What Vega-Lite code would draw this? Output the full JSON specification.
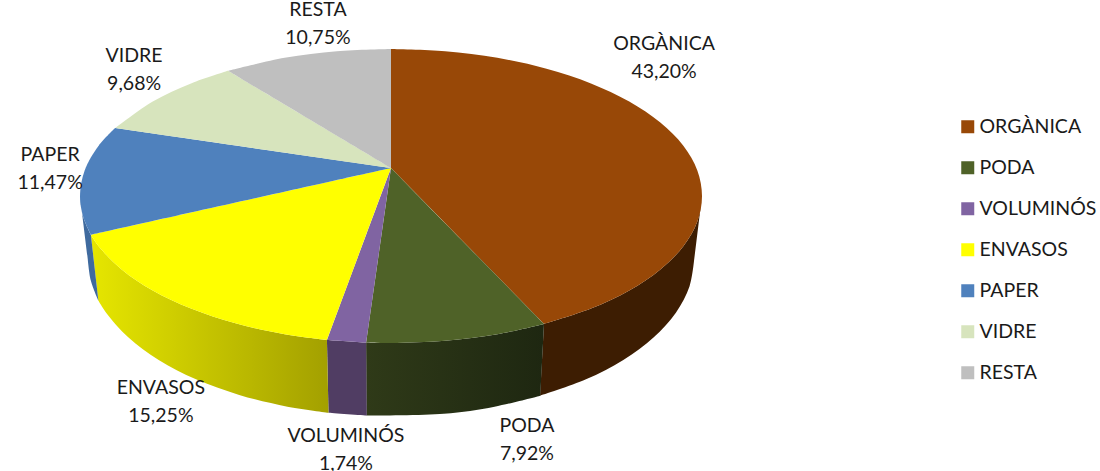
{
"$schema":"https://vega.github.io/schema/vega-lite/v6.json",
"width":1100,"height":471,"padding":0,"autosize":{"type":"none"},
"background":"white",
"config":{"view":{"stroke":null},"font":"Lato"},
"datasets":{
"top":[
{"slice":"ORGÀNICA","i":0,"x":0,"y":0.19},{"slice":"ORGÀNICA","i":1,"x":0,"y":1},{"slice":"ORGÀNICA","i":1,"x":0,"y":1},{"slice":"ORGÀNICA","i":2,"x":0.174,"y":0.985},{"slice":"ORGÀNICA","i":3,"x":0.342,"y":0.94},{"slice":"ORGÀNICA","i":4,"x":0.5,"y":0.866},{"slice":"ORGÀNICA","i":5,"x":0.643,"y":0.766},{"slice":"ORGÀNICA","i":6,"x":0.766,"y":0.643},{"slice":"ORGÀNICA","i":7,"x":0.866,"y":0.5},{"slice":"ORGÀNICA","i":8,"x":0.94,"y":0.342},{"slice":"ORGÀNICA","i":9,"x":0.985,"y":0.174},{"slice":"ORGÀNICA","i":10,"x":1,"y":0},{"slice":"ORGÀNICA","i":11,"x":0.985,"y":-0.174},{"slice":"ORGÀNICA","i":12,"x":0.94,"y":-0.342},{"slice":"ORGÀNICA","i":13,"x":0.866,"y":-0.5},{"slice":"ORGÀNICA","i":14,"x":0.766,"y":-0.643},{"slice":"ORGÀNICA","i":15,"x":0.643,"y":-0.766},{"slice":"ORGÀNICA","i":16,"x":0.492,"y":-0.87},
{"slice":"PODA","i":0,"x":0,"y":0.19},{"slice":"PODA","i":1,"x":0.492,"y":-0.87},{"slice":"PODA","i":1,"x":0.492,"y":-0.87},{"slice":"PODA","i":2,"x":0.342,"y":-0.94},{"slice":"PODA","i":3,"x":0.174,"y":-0.985},{"slice":"PODA","i":4,"x":0,"y":-1},{"slice":"PODA","i":5,"x":-0.08,"y":-0.997},
{"slice":"VOLUMINÓS","i":0,"x":0,"y":0.19},{"slice":"VOLUMINÓS","i":1,"x":-0.08,"y":-0.997},{"slice":"VOLUMINÓS","i":1,"x":-0.08,"y":-0.997},{"slice":"VOLUMINÓS","i":2,"x":-0.206,"y":-0.979},
{"slice":"ENVASOS","i":0,"x":0,"y":0.19},{"slice":"ENVASOS","i":1,"x":-0.206,"y":-0.979},{"slice":"ENVASOS","i":1,"x":-0.206,"y":-0.979},{"slice":"ENVASOS","i":2,"x":-0.342,"y":-0.94},{"slice":"ENVASOS","i":3,"x":-0.5,"y":-0.866},{"slice":"ENVASOS","i":4,"x":-0.643,"y":-0.766},{"slice":"ENVASOS","i":5,"x":-0.766,"y":-0.643},{"slice":"ENVASOS","i":6,"x":-0.866,"y":-0.5},{"slice":"ENVASOS","i":7,"x":-0.94,"y":-0.342},{"slice":"ENVASOS","i":8,"x":-0.965,"y":-0.264},
{"slice":"PAPER","i":0,"x":0,"y":0.19},{"slice":"PAPER","i":1,"x":-0.965,"y":-0.264},{"slice":"PAPER","i":1,"x":-0.965,"y":-0.264},{"slice":"PAPER","i":2,"x":-0.99,"y":-0.139},{"slice":"PAPER","i":3,"x":-1,"y":0},{"slice":"PAPER","i":4,"x":-0.985,"y":0.174},{"slice":"PAPER","i":5,"x":-0.94,"y":0.342},{"slice":"PAPER","i":6,"x":-0.887,"y":0.462},
{"slice":"VIDRE","i":0,"x":0,"y":0.19},{"slice":"VIDRE","i":1,"x":-0.887,"y":0.462},{"slice":"VIDRE","i":1,"x":-0.887,"y":0.462},{"slice":"VIDRE","i":2,"x":-0.766,"y":0.643},{"slice":"VIDRE","i":3,"x":-0.643,"y":0.766},{"slice":"VIDRE","i":4,"x":-0.524,"y":0.852},
{"slice":"RESTA","i":0,"x":0,"y":0.19},{"slice":"RESTA","i":1,"x":-0.524,"y":0.852},{"slice":"RESTA","i":1,"x":-0.524,"y":0.852},{"slice":"RESTA","i":2,"x":-0.342,"y":0.94},{"slice":"RESTA","i":3,"x":-0.174,"y":0.985},{"slice":"RESTA","i":4,"x":0,"y":1}
],
"wall":[
{"slice":"ORGÀNICA","i":0,"x":1,"y":0},{"slice":"ORGÀNICA","i":1,"x":0.985,"y":-0.174},{"slice":"ORGÀNICA","i":2,"x":0.94,"y":-0.342},{"slice":"ORGÀNICA","i":3,"x":0.866,"y":-0.5},{"slice":"ORGÀNICA","i":4,"x":0.766,"y":-0.643},{"slice":"ORGÀNICA","i":5,"x":0.643,"y":-0.766},{"slice":"ORGÀNICA","i":6,"x":0.492,"y":-0.87},{"slice":"ORGÀNICA","i":6,"x":0.492,"y":-0.87},{"slice":"ORGÀNICA","i":7,"x":0.48,"y":-1.358},{"slice":"ORGÀNICA","i":7,"x":0.48,"y":-1.358},{"slice":"ORGÀNICA","i":8,"x":0.627,"y":-1.247},{"slice":"ORGÀNICA","i":9,"x":0.747,"y":-1.115},{"slice":"ORGÀNICA","i":10,"x":0.844,"y":-0.963},{"slice":"ORGÀNICA","i":11,"x":0.916,"y":-0.794},{"slice":"ORGÀNICA","i":12,"x":0.96,"y":-0.614},{"slice":"ORGÀNICA","i":13,"x":0.975,"y":-0.429},
{"slice":"PODA","i":0,"x":0.492,"y":-0.87},{"slice":"PODA","i":1,"x":0.342,"y":-0.94},{"slice":"PODA","i":2,"x":0.174,"y":-0.985},{"slice":"PODA","i":3,"x":0,"y":-1},{"slice":"PODA","i":4,"x":-0.08,"y":-0.997},{"slice":"PODA","i":4,"x":-0.08,"y":-0.997},{"slice":"PODA","i":5,"x":-0.078,"y":-1.493},{"slice":"PODA","i":5,"x":-0.078,"y":-1.493},{"slice":"PODA","i":6,"x":0.17,"y":-1.481},{"slice":"PODA","i":7,"x":0.333,"y":-1.433},{"slice":"PODA","i":8,"x":0.48,"y":-1.358},
{"slice":"VOLUMINÓS","i":0,"x":-0.08,"y":-0.997},{"slice":"VOLUMINÓS","i":1,"x":-0.206,"y":-0.979},{"slice":"VOLUMINÓS","i":1,"x":-0.206,"y":-0.979},{"slice":"VOLUMINÓS","i":2,"x":-0.201,"y":-1.474},{"slice":"VOLUMINÓS","i":2,"x":-0.201,"y":-1.474},{"slice":"VOLUMINÓS","i":3,"x":-0.078,"y":-1.493},
{"slice":"ENVASOS","i":0,"x":-0.206,"y":-0.979},{"slice":"ENVASOS","i":1,"x":-0.342,"y":-0.94},{"slice":"ENVASOS","i":2,"x":-0.5,"y":-0.866},{"slice":"ENVASOS","i":3,"x":-0.643,"y":-0.766},{"slice":"ENVASOS","i":4,"x":-0.766,"y":-0.643},{"slice":"ENVASOS","i":5,"x":-0.866,"y":-0.5},{"slice":"ENVASOS","i":6,"x":-0.94,"y":-0.342},{"slice":"ENVASOS","i":7,"x":-0.965,"y":-0.264},{"slice":"ENVASOS","i":7,"x":-0.965,"y":-0.264},{"slice":"ENVASOS","i":8,"x":-0.941,"y":-0.711},{"slice":"ENVASOS","i":8,"x":-0.941,"y":-0.711},{"slice":"ENVASOS","i":9,"x":-0.916,"y":-0.794},{"slice":"ENVASOS","i":10,"x":-0.844,"y":-0.963},{"slice":"ENVASOS","i":11,"x":-0.747,"y":-1.115},{"slice":"ENVASOS","i":12,"x":-0.627,"y":-1.247},{"slice":"ENVASOS","i":13,"x":-0.488,"y":-1.353},{"slice":"ENVASOS","i":14,"x":-0.333,"y":-1.433},{"slice":"ENVASOS","i":15,"x":-0.201,"y":-1.474},
{"slice":"PAPER","i":0,"x":-0.965,"y":-0.264},{"slice":"PAPER","i":1,"x":-0.99,"y":-0.139},{"slice":"PAPER","i":2,"x":-1,"y":0},{"slice":"PAPER","i":2,"x":-1,"y":0},{"slice":"PAPER","i":3,"x":-0.975,"y":-0.429},{"slice":"PAPER","i":3,"x":-0.975,"y":-0.429},{"slice":"PAPER","i":4,"x":-0.965,"y":-0.577},{"slice":"PAPER","i":5,"x":-0.941,"y":-0.711}
],
"labels":[
{"slice":"ORGÀNICA","pct":43.20,"label":"ORGÀNICA\n43,20%","x":0.878,"y":1.034},
{"slice":"PODA","pct":7.92,"label":"PODA\n7,92%","x":0.437,"y":-1.565},
{"slice":"VOLUMINÓS","pct":1.74,"label":"VOLUMINÓS\n1,74%","x":-0.145,"y":-1.633},
{"slice":"ENVASOS","pct":15.25,"label":"ENVASOS\n15,25%","x":-0.74,"y":-1.307},
{"slice":"PAPER","pct":11.47,"label":"PAPER\n11,47%","x":-1.096,"y":0.278},
{"slice":"VIDRE","pct":9.68,"label":"VIDRE\n9,68%","x":-0.826,"y":0.952},
{"slice":"RESTA","pct":10.75,"label":"RESTA\n10,75%","x":-0.235,"y":1.265}
]
},
"encoding":{
"x":{"field":"x","type":"quantitative","axis":null,"scale":{"domain":[-1.2572,2.2797],"nice":false,"zero":false}},
"y":{"field":"y","type":"quantitative","axis":null,"scale":{"domain":[-1.8707,1.3333],"nice":false,"zero":false}}
},
"layer":[
{"data":{"name":"wall"},"transform":[{"filter":"datum.slice==='ORGÀNICA'"}],"mark":{"type":"line","interpolate":"catmull-rom","fill":"#3d1d02","strokeWidth":0},"encoding":{"order":{"field":"i","type":"quantitative"}}},
{"data":{"name":"wall"},"transform":[{"filter":"datum.slice==='PODA'"}],"mark":{"type":"line","interpolate":"catmull-rom","strokeWidth":0,"fill":{"gradient":"linear","x1":0,"x2":1,"y1":0,"y2":0,"stops":[{"offset":0,"color":"#2f3a18"},{"offset":1,"color":"#1e2711"}]}},"encoding":{"order":{"field":"i","type":"quantitative"}}},
{"data":{"name":"wall"},"transform":[{"filter":"datum.slice==='VOLUMINÓS'"}],"mark":{"type":"line","interpolate":"catmull-rom","fill":"#503d63","strokeWidth":0},"encoding":{"order":{"field":"i","type":"quantitative"}}},
{"data":{"name":"wall"},"transform":[{"filter":"datum.slice==='ENVASOS'"}],"mark":{"type":"line","interpolate":"catmull-rom","strokeWidth":0,"fill":{"gradient":"linear","x1":0,"x2":1,"y1":0,"y2":0,"stops":[{"offset":0,"color":"#e6e600"},{"offset":1,"color":"#a3a000"}]}},"encoding":{"order":{"field":"i","type":"quantitative"}}},
{"data":{"name":"wall"},"transform":[{"filter":"datum.slice==='PAPER'"}],"mark":{"type":"line","interpolate":"catmull-rom","fill":"#3f6a9e","strokeWidth":0},"encoding":{"order":{"field":"i","type":"quantitative"}}},
{"data":{"name":"top"},"mark":{"type":"line","interpolate":"catmull-rom","strokeWidth":0},"encoding":{
"order":{"field":"i","type":"quantitative"},
"detail":{"field":"slice"},
"fill":{"field":"slice","type":"nominal","scale":{"domain":["ORGÀNICA","PODA","VOLUMINÓS","ENVASOS","PAPER","VIDRE","RESTA"],"range":["#984807","#4f6228","#8064a2","#ffff00","#4f81bd","#d7e4bd","#bfbfbf"]},
"legend":{"orient":"none","legendX":958,"legendY":117,"title":null,"symbolType":"square","symbolSize":169,"symbolStrokeWidth":0,"symbolOpacity":1,"labelFontSize":19.5,"labelFont":"Lato","labelColor":"#1a1a1a","labelOffset":2,"rowPadding":20,"labelLimit":200}}
}},
{"data":{"name":"labels"},"mark":{"type":"text","font":"Lato","fontSize":19.5,"lineHeight":28,"lineBreak":"\n","align":"center","baseline":"middle","color":"#1a1a1a"},"encoding":{"text":{"field":"label"}}}
]
}
